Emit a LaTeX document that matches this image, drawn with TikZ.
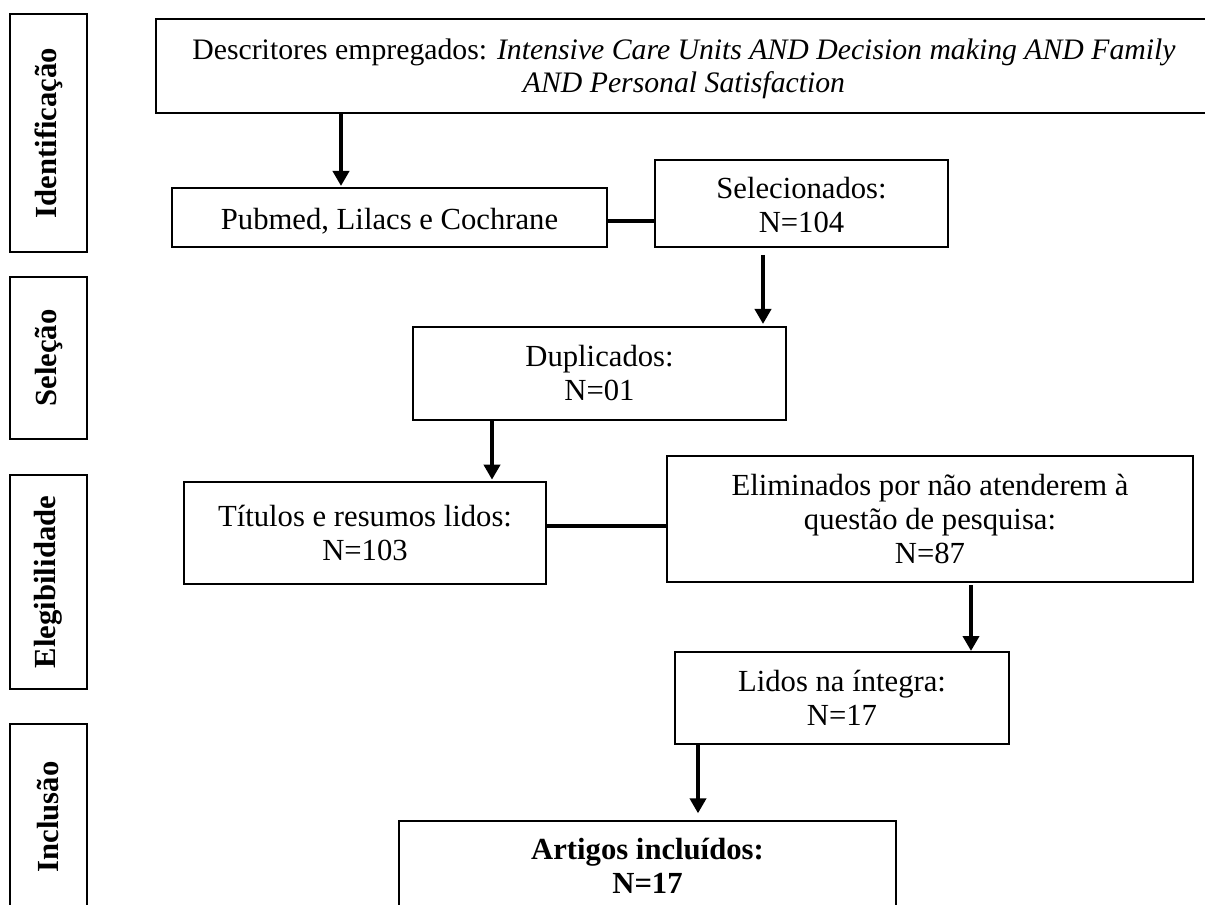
\documentclass[tikz,border=0pt]{standalone}
\usepackage{fontspec}
\setmainfont{Liberation Serif}
\usetikzlibrary{arrows.meta}
\tikzset{
  box/.style={draw=black, line width=1.5pt, rectangle, inner sep=0pt, align=center,
    font=\fontsize{23}{25.5}\selectfont},
  sidebox/.style={draw=black, line width=1.5pt, rectangle, inner sep=0pt, rotate=90,
    minimum height=57.75pt, font=\fontsize{23}{25.5}\selectfont\bfseries},
  conn/.style={line width=3pt},
  arr/.style={line width=3pt, -{Triangle[length=11.25pt,width=12pt]}}
}
\begin{document}
\begin{tikzpicture}[x=0.75pt,y=-0.75pt]
\useasboundingbox (0,0) rectangle (1205,905);
\clip (0,0) rectangle (1205,905);
\fill[white] (0,0) rectangle (1205,905);

% helper coordinates for connector positions
\coordinate (v1) at (341,0);
\coordinate (v2) at (763,0);
\coordinate (v3) at (492,0);
\coordinate (v4) at (971,0);
\coordinate (v5) at (698,0);
\coordinate (h1) at (0,221);
\coordinate (h2) at (0,526);

% side stage boxes
\node[sidebox, minimum width=178.5pt] (s1) at (48.5,133) {Identificação};
\node[sidebox, minimum width=121.5pt] (s2) at (48.5,358) {Seleção};
\node[sidebox, minimum width=160.5pt] (s3) at (48.5,582) {Elegibilidade};
\node[sidebox, minimum width=139.5pt] (s4) at (48.5,817) {Inclusão};

% flow boxes
\node[box, minimum width=792pt, minimum height=70.5pt,
      font=\fontsize{22.3}{24.75}\selectfont] (topbox) at (684,66)
  {\rule{0pt}{20.25pt}Descritores empregados: \textit{Intensive Care Units AND Decision making AND Family}\\
   \textit{AND Personal Satisfaction}};
\node[box, minimum width=326.25pt, minimum height=44.25pt] (pub) at (389.5,217.5)
  {\rule{0pt}{21.75pt}Pubmed, Lilacs e Cochrane};
\node[box, minimum width=219.75pt, minimum height=65.25pt] (sel) at (801.5,203.5)
  {\rule{0pt}{18.75pt}Selecionados:\\N=104};
\node[box, minimum width=279.75pt, minimum height=69.75pt] (dup) at (599.5,373.5)
  {Duplicados:\\N=01};
\node[box, minimum width=271.5pt, minimum height=76.5pt] (tit) at (365,533)
  {Títulos e resumos lidos:\\N=103};
\node[box, minimum width=394.5pt, minimum height=94.5pt] (eli) at (930,519)
  {Eliminados por não atenderem à\\questão de pesquisa:\\N=87};
\node[box, minimum width=250.5pt, minimum height=69pt] (lid) at (842,698)
  {Lidos na íntegra:\\N=17};
\node[box, minimum width=372.75pt, minimum height=66.75pt,
      font=\fontsize{23}{25.5}\selectfont\bfseries] (art) at (647.5,865.5)
  {Artigos incluídos:\\N=17};

% connectors
\draw[conn] (pub.east |- h1) -- (sel.west |- h1);
\draw[conn] (tit.east |- h2) -- (eli.west |- h2);

% arrows
\draw[arr, shorten >=0.75pt] (topbox.south -| v1) -- (pub.north -| v1);
\draw[arr, shorten <=5.25pt, shorten >=1.5pt] (sel.south -| v2) -- (dup.north -| v2);
\draw[arr, shorten >=1pt] (dup.south -| v3) -- (tit.north -| v3);
\draw[arr, shorten <=1.5pt] (eli.south -| v4) -- (lid.north -| v4);
\draw[arr, shorten >=5pt] (lid.south -| v5) -- (art.north -| v5);
\end{tikzpicture}
\end{document}
